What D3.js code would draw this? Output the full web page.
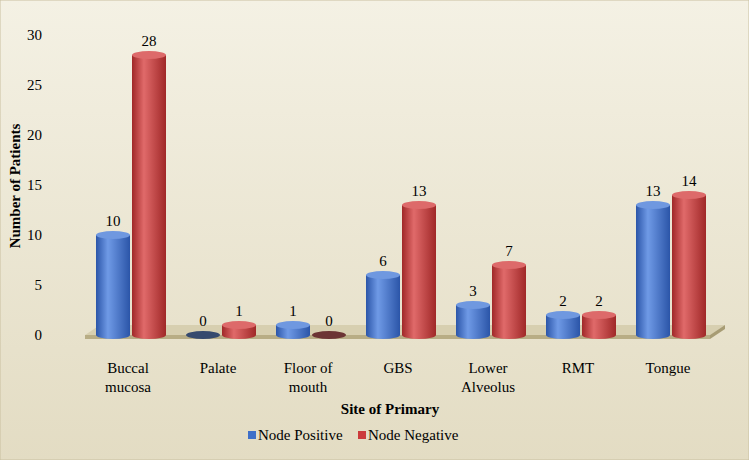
<!DOCTYPE html>
<html><head><meta charset="utf-8">
<script src="https://cdn.jsdelivr.net/npm/d3@7"></script>
<style>body{margin:0}svg{display:block}</style></head>
<body><svg id="c" width="749" height="460"></svg>
<script>
const categories = ["Buccal\nmucosa", "Palate", "Floor of\nmouth", "GBS", "Lower\nAlveolus", "RMT", "Tongue"];
const nodePositive = [10, 0, 1, 6, 3, 2, 13];
const nodeNegative = [28, 1, 0, 13, 7, 2, 14];
const yTicks = [0, 5, 10, 15, 20, 25, 30];

const svg = d3.select("#c");
const defs = svg.append("defs");
const bg = defs.append("linearGradient").attr("id", "bg").attr("x1", 0).attr("y1", 0).attr("x2", 0).attr("y2", 1);
bg.append("stop").attr("offset", 0).attr("stop-color", "#f4f1e4");
bg.append("stop").attr("offset", 1).attr("stop-color", "#e3dcc3");
svg.append("rect").attr("width", 749).attr("height", 460).attr("fill", "url(#bg)").attr("stroke", "#c9c0a0");

function cyl(id, dark, mid, light) {
  const g = defs.append("linearGradient").attr("id", id);
  g.append("stop").attr("offset", 0).attr("stop-color", dark);
  g.append("stop").attr("offset", 0.35).attr("stop-color", light);
  g.append("stop").attr("offset", 1).attr("stop-color", dark);
}
cyl("blue", "#2b55a8", "#4a7bd0", "#6f9ae6");
cyl("red", "#a02828", "#cc4444", "#e06a6a");

const x = d3.scaleBand().domain(categories).range([85, 715]).paddingInner(0).paddingOuter(0);
const y = d3.scaleLinear().domain([0, 30]).range([335, 35]);

// floor
const fl = 85, fr = 720;
svg.append("path").attr("d", `M${fl},335 L${fr - 10},335 L${fr + 5},325 L${fl + 15},325 Z`).attr("fill", "#d7cfb0");
svg.append("path").attr("d", `M${fl},335 L${fr - 10},335 L${fr - 10},339 L${fl},339 Z`).attr("fill", "#b8ad85");
svg.append("path").attr("d", `M${fr - 10},335 L${fr + 5},325 L${fr + 5},329 L${fr - 10},339 Z`).attr("fill", "#a79c74");

// y axis labels
svg.append("g").selectAll("text").data(yTicks).join("text")
  .attr("x", 42).attr("y", d => y(d) + 5).attr("text-anchor", "end")
  .attr("font-family", "Liberation Serif").attr("font-size", 15).text(d => d);

const bw = 34, ry = 4;
function bars(data, cls, dx, top) {
  const g = svg.append("g");
  data.forEach((v, i) => {
    const cx = x(categories[i]) + x.bandwidth() / 2 + dx;
    const yt = y(v), yb = y(0);
    const h = yb - yt;
    if (h > 0.5) {
      g.append("path").attr("d", `M${cx - bw / 2},${yt} L${cx - bw / 2},${yb} A${bw / 2},${ry} 0 0 0 ${cx + bw / 2},${yb} L${cx + bw / 2},${yt} Z`)
        .attr("fill", `url(#${cls})`);
    }
    g.append("ellipse").attr("cx", cx).attr("cy", yt).attr("rx", bw / 2).attr("ry", ry)
      .attr("fill", h > 0.5 ? top : d3.color(top).darker(2));
    g.append("text").attr("x", cx).attr("y", yt - 9).attr("text-anchor", "middle")
      .attr("font-family", "Liberation Serif").attr("font-size", 15).text(v);
  });
}
bars(nodePositive, "blue", -17, "#6f98e0");
bars(nodeNegative, "red", 19, "#dd6a6a");

// category labels
svg.append("g").selectAll("text").data(categories).join("text")
  .attr("x", d => x(d) + x.bandwidth() / 2 - 2).attr("y", 373).attr("text-anchor", "middle")
  .attr("font-family", "Liberation Serif").attr("font-size", 15)
  .each(function (d) {
    d.split("\n").forEach((t, j) => d3.select(this).append("tspan").attr("x", x(d) + x.bandwidth() / 2 - 2).attr("dy", j ? 19 : 0).text(t));
  });

svg.append("text").attr("x", 390).attr("y", 414).attr("text-anchor", "middle")
  .attr("font-family", "Liberation Serif").attr("font-weight", "bold").attr("font-size", 15).text("Site of Primary");
svg.append("text").attr("transform", "translate(20,186) rotate(-90)").attr("text-anchor", "middle")
  .attr("font-family", "Liberation Serif").attr("font-weight", "bold").attr("font-size", 15).text("Number of Patients");

// legend
const leg = [["Node Positive", "#3f6fc8"], ["Node Negative", "#cc3b3b"]];
leg.forEach((l, i) => {
  const lx = 248 + i * 110;
  svg.append("rect").attr("x", lx).attr("y", 431).attr("width", 8).attr("height", 8).attr("fill", l[1]);
  svg.append("text").attr("x", lx + 10).attr("y", 440).attr("font-family", "Liberation Serif").attr("font-size", 15).text(l[0]);
});
</script></body></html>
